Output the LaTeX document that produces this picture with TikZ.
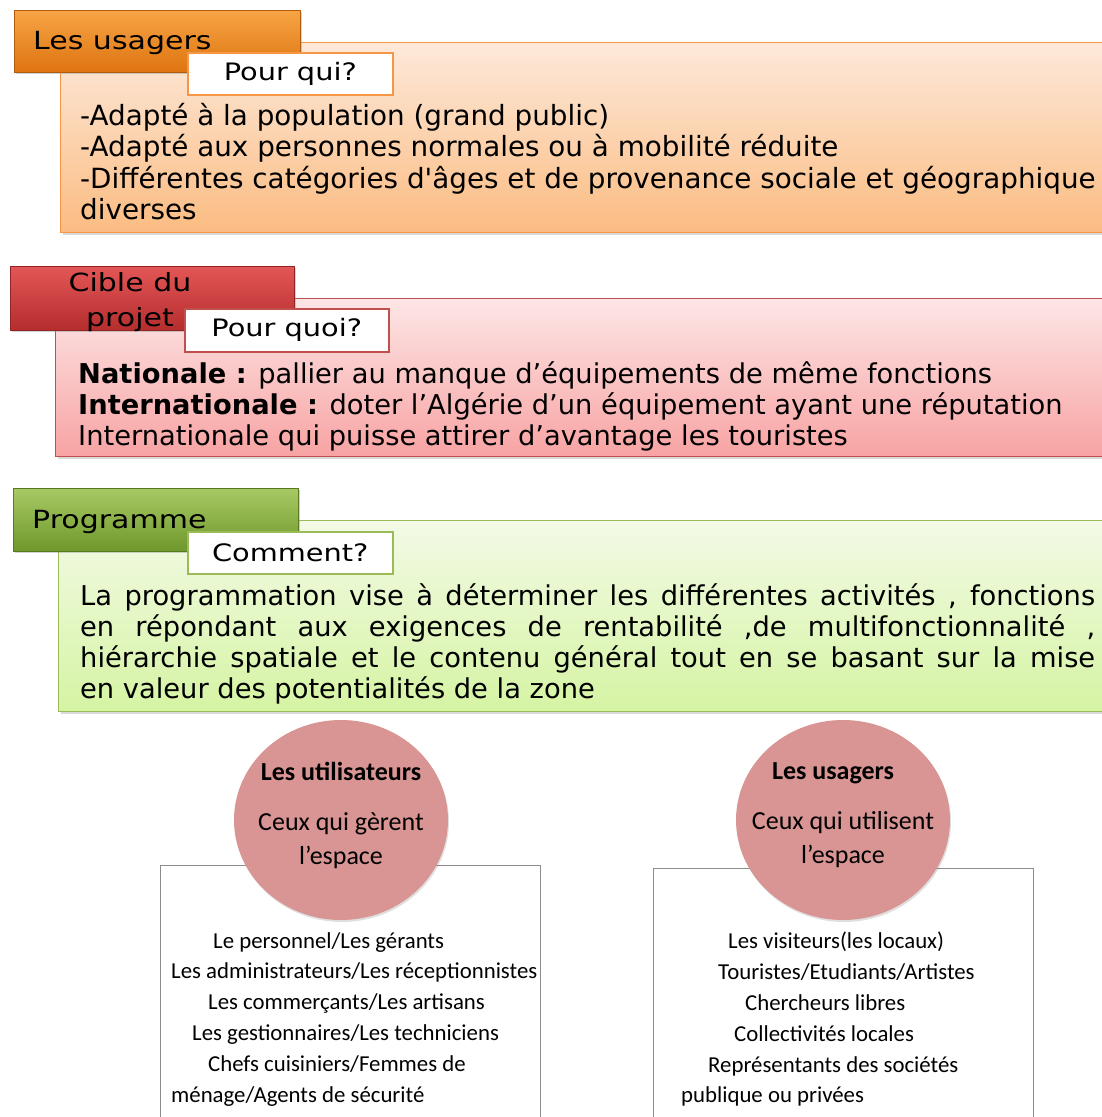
\documentclass[tikz,border=0pt]{standalone}
\usepackage{fontspec}
\setmainfont{DejaVu Sans}
\newfontfamily\widefont[FakeStretch=1.2]{DejaVu Sans}
\newfontfamily\calibri{Carlito}
\usetikzlibrary{positioning,shadows,shapes.geometric}
\definecolor{orangeA}{HTML}{F7A445}
\definecolor{orangeB}{HTML}{DE7410}
\definecolor{orangeL}{HTML}{FDE9DA}
\definecolor{orangeM}{HTML}{FBBC82}
\definecolor{orangeE}{HTML}{F79646}
\definecolor{redA}{HTML}{E35656}
\definecolor{redB}{HTML}{B52D2D}
\definecolor{redL}{HTML}{FDE6E6}
\definecolor{redM}{HTML}{F8A3A3}
\definecolor{redE}{HTML}{C0504D}
\definecolor{greenA}{HTML}{A8C964}
\definecolor{greenB}{HTML}{6E982B}
\definecolor{greenL}{HTML}{F3FAE6}
\definecolor{greenM}{HTML}{D5F4A3}
\definecolor{greenE}{HTML}{9BBB59}
\definecolor{rose}{HTML}{D99594}
\definecolor{frame}{HTML}{8C8C8C}
\tikzset{
  bodybox/.style={draw=#1, line width=1pt, anchor=north west, inner sep=0pt,
    drop shadow={opacity=0.3, shadow xshift=2pt, shadow yshift=-2pt}},
  headbox/.style={draw=#1!80!black, line width=0.6pt, anchor=north west, inner sep=0pt,
    drop shadow={opacity=0.35, shadow xshift=2pt, shadow yshift=-2pt}},
  askbox/.style={draw=#1, line width=1.6pt, fill=white, anchor=north west, inner sep=0pt,
    font=\widefont\fontsize{24}{28}\selectfont},
  headtext/.style={inner sep=0pt, font=\widefont\fontsize{25}{35}\selectfont},
  bodytext/.style={anchor=north west, inner sep=0pt, align=left,
    font=\fontsize{27.3}{31.3}\selectfont},
  listbox/.style={draw=frame, line width=1.4pt, anchor=north west, inner sep=0pt,
    minimum width=380pt, minimum height=270pt},
  bubble/.style={ellipse, fill=rose, inner sep=0pt, minimum width=214pt, minimum height=200pt,
    drop shadow={opacity=0.25, shadow xshift=1pt, shadow yshift=-2pt}},
  bubbletext/.style={anchor=north, inner sep=0pt, align=center,
    font=\calibri\fontsize{26}{34}\selectfont},
  listtext/.style={anchor=north west, inner sep=0pt, align=left,
    font=\calibri\fontsize{22.8}{30.8}\selectfont},
}
\begin{document}
\begin{tikzpicture}[x=1pt,y=-1pt]
\useasboundingbox (0,0) rectangle (1102,1117);
% les usagers
\node[bodybox=orangeE, top color=orangeL, bottom color=orangeM,
  minimum width=1050pt, minimum height=190pt] (usagersbody) at (60,42) {};
\node[headbox=orangeB, top color=orangeA, bottom color=orangeB,
  minimum width=286pt, minimum height=62pt] (usagershead) at (14,10) {};
\node[headtext, anchor=west] (usagerstitle) at (33,43) {Les usagers};
\node[askbox=orangeE, minimum width=205pt, minimum height=42pt] (pourqui) at (187,52) {Pour qui?};
\node[bodytext, font=\fontsize{27.8}{31.3}\selectfont] (usagerstext) at (80,103) {-Adapté à la population (grand public)\\
  -Adapté aux personnes normales ou à mobilité réduite\\
  -Différentes catégories d\textquotesingle âges et de provenance sociale et géographique\\
  diverses};
% cible du projet
\node[bodybox=redE, top color=redL, bottom color=redM,
  minimum width=1055pt, minimum height=158pt] (ciblebody) at (55,298) {};
\node[headbox=redB, top color=redA, bottom color=redB,
  minimum width=284pt, minimum height=64pt] (ciblehead) at (10,266) {};
\node[headtext, align=center] (cibletitle) at (130,302) {Cible du\\projet};
\node[askbox=redE, minimum width=204pt, minimum height=43pt] (pourquoi) at (184,308) {Pour quoi?};
\node[bodytext] (cibletext) at (78,361) {\textbf{Nationale :} pallier au manque d’équipements de même fonctions\\
  \textbf{Internationale :} doter l’Algérie d’un équipement ayant une réputation\\
  Internationale qui puisse attirer d’avantage les touristes};
% programme
\node[bodybox=greenE, top color=greenL, bottom color=greenM,
  minimum width=1052pt, minimum height=191pt] (progbody) at (58,520) {};
\node[headbox=greenB, top color=greenA, bottom color=greenB,
  minimum width=285pt, minimum height=63pt] (proghead) at (13,488) {};
\node[headtext, anchor=west] (progtitle) at (32,522) {Programme};
\node[askbox=greenE, minimum width=205pt, minimum height=42pt] (comment) at (187,531) {Comment?};
\node[bodytext, align=justify, text width=1015pt] (progtext) at (80,583)
  {\hyphenpenalty=10000 La programmation vise à déterminer les différentes activités , fonctions\linebreak
  en répondant aux exigences de rentabilité ,de multifonctionnalité ,\linebreak
  hiérarchie spatiale et le contenu général tout en se basant sur la mise\linebreak
  en valeur des potentialités de la zone};
% utilisateurs / usagers
\node[listbox] (gerentbox) at (160,865) {};
\node[listbox] (utilisentbox) at (653,868) {};
\node[bubble] (gerent) at (341,820) {};
\node[bubble] (utilisent) at (843,820) {};
\node[bubbletext] (gerenttext) at (341,762) {\textbf{Les utilisateurs}\\[16pt]Ceux qui gèrent\\l’espace};
\node[bubbletext] (utilisenttext) at (843,762) {\hspace*{-20pt}\textbf{Les usagers}\\[16pt]Ceux qui utilisent\\l’espace};
\node[listtext] (gerentlist) at (171,932) {\hspace*{42pt}Le personnel/Les gérants\\
  Les administrateurs/Les réceptionnistes\\
  \hspace*{37pt}Les commerçants/Les artisans\\
  \hspace*{21pt}Les gestionnaires/Les techniciens\\
  \hspace*{37pt}Chefs cuisiniers/Femmes de\\
  ménage/Agents de sécurité};
\node[listtext] (utilisentlist) at (681,932) {\hspace*{47pt}Les visiteurs(les locaux)\\
  \hspace*{37pt}Touristes/Etudiants/Artistes\\
  \hspace*{64pt}Chercheurs libres\\
  \hspace*{53pt}Collectivités locales\\
  \hspace*{27pt}Représentants des sociétés\\
  publique ou privées};
\end{tikzpicture}
\end{document}
